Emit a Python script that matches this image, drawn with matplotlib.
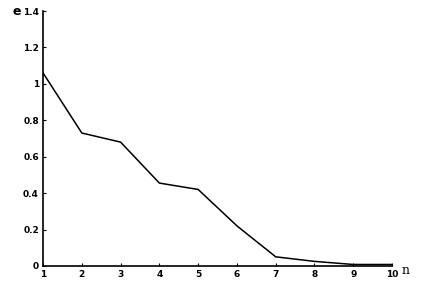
import numpy as np
import matplotlib
matplotlib.use("Agg")
import matplotlib.pyplot as plt

# error e against iteration n
n = [1, 2, 3, 4, 5, 6, 7, 8, 9, 10]
e = [1.06, 0.73, 0.68, 0.455, 0.42, 0.22, 0.05, 0.025, 0.008, 0.008]
yticks = [0, 0.2, 0.4, 0.6, 0.8, 1, 1.2, 1.4]
yticklabels = ['0', '0.2', '0.4', '0.6', '0.8', '1', '1.2', '1.4']

fig = plt.figure(figsize=(4.22, 2.9), dpi=100)
ax = fig.add_axes([0.102, 0.083, 0.827, 0.879])

ax.plot(n, e, color='black', linewidth=1.1)

ax.set_xlim(1, 10)
ax.set_ylim(0, 1.4)
ax.set_xticks(n)
ax.set_yticks(yticks)
ax.set_yticklabels(yticklabels)

for side in ['top', 'right']:
    ax.spines[side].set_visible(False)
for side in ['left', 'bottom']:
    ax.spines[side].set_linewidth(1.2)

ax.tick_params(direction='in', length=2.5, width=0.8, labelsize=6.5, pad=3)
for lab in ax.get_xticklabels() + ax.get_yticklabels():
    lab.set_fontweight('bold')

# axis names: e beside the top of the y axis, n after the end of the x axis
ax.annotate('e', xy=(0, 1), xycoords='axes fraction', xytext=(-19, 0),
            textcoords='offset points', fontsize=9, fontweight='bold',
            ha='center', va='center')
ax.annotate('n', xy=(1, 0), xycoords='axes fraction', xytext=(10, -3),
            textcoords='offset points', fontsize=9, family='DejaVu Serif',
            ha='center', va='center')

plt.savefig('out.png', dpi=100)
